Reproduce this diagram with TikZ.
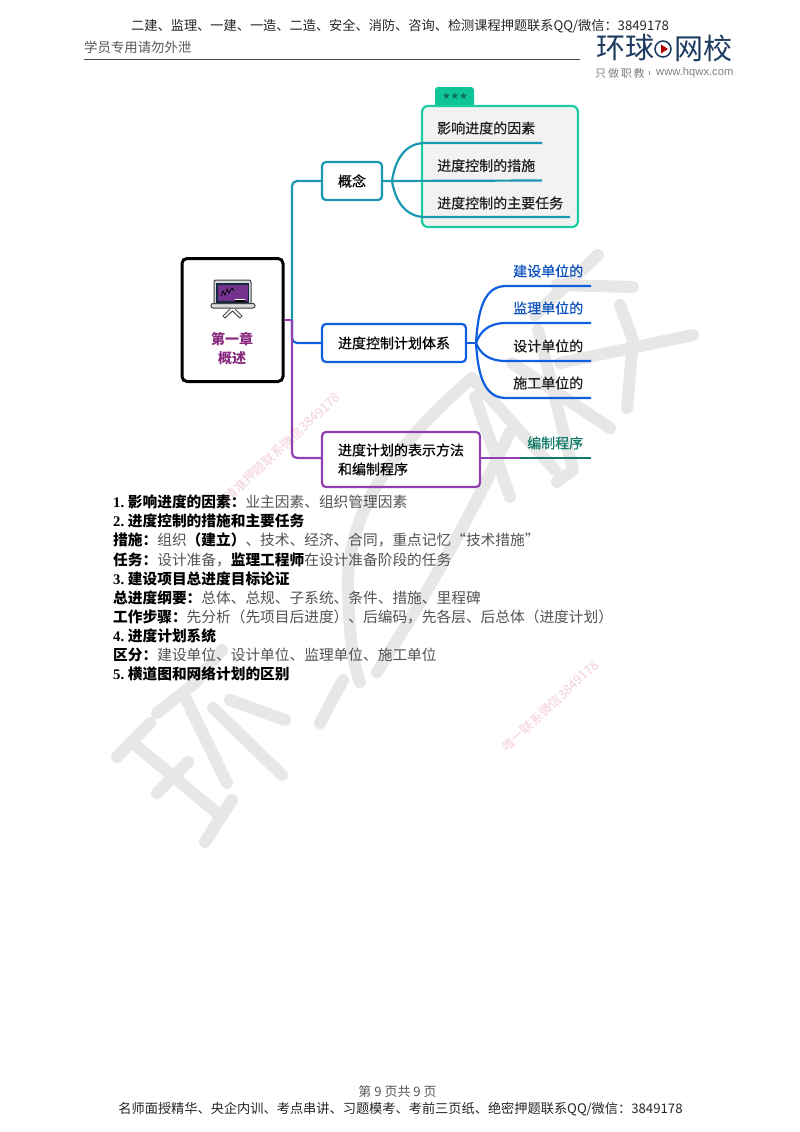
\documentclass[tikz,border=0pt]{standalone}
\usepackage{fontspec}
\setmainfont{Noto Sans CJK SC}
\newfontfamily\ser{Liberation Serif}
\newfontfamily\sym{DejaVu Sans}
\newfontfamily\lat{Liberation Sans}
\newcommand{\fsz}[1]{\fontsize{#1}{#1}\selectfont}
\newcommand{\bd}[1]{{\bfseries\color{black}#1}}
\newcommand{\nm}[1]{\makebox[14.7pt][l]{\color{black}\ser\bfseries #1}}
\newcommand{\fb}{\addfontfeature{FakeBold=0.5}}
\definecolor{teal1}{HTML}{1A98B0}
\definecolor{mint}{HTML}{1CCCA0}
\definecolor{mintdk}{HTML}{10C49A}
\definecolor{blue1}{HTML}{0F5FE0}
\definecolor{purp}{HTML}{9040B0}
\definecolor{grn}{HTML}{0F7A66}
\definecolor{navy}{HTML}{1D3A5F}
\definecolor{wm}{HTML}{E7E7E7}
\definecolor{pinkw}{HTML}{F3CFD7}
\definecolor{plum}{HTML}{8A2A80}
\tikzset{
  x=1pt,y=-1pt,
  wmstroke/.style={draw=wm,line width=12pt,line cap=round,line join=round},
  wmtext/.style={text=pinkw,font=\fsz{12.8},rotate=43,inner sep=0},
  bodyline/.style={anchor=west,inner sep=0,text=black!68,font=\fsz{14.7}},
  hdr/.style={inner sep=0,font=\fsz{13.2},text=black!85},
  mbox/.style={draw,line width=2.2pt,rounded corners=4pt,inner sep=0,align=center,font={\fsz{14}\fb}},
  lbl/.style={anchor=west,inner sep=0,font={\fsz{14}\fb},text=black!88},
  conn/.style={line width=2.2pt,rounded corners=5pt},
  curve/.style={line width=2.2pt},
}
\begin{document}
\begin{tikzpicture}
\useasboundingbox (0,0) rectangle (800,1132);
\fill[white] (0,0) rectangle (800,1132);
% background watermark strokes
\draw[wmstroke] (117,757)--(150,723);
\draw[wmstroke] (133,743)--(217,813);
\draw[wmstroke] (157,793)--(188,762);
\draw[wmstroke] (205,842)--(232,800);
\draw[wmstroke] (157,713)--(195,683)--(222,650);
\draw[wmstroke] (183,693)--(227,783);
\draw[wmstroke] (213,708)--(282,775);
\draw[wmstroke] (230,700)--(285,720);
\draw[wmstroke] (320,723)--(343,680);
\draw[wmstroke] (472,378) .. controls (400,440) and (345,510) .. (348,590) .. controls (349,630) and (352,660) .. (360,682);
\draw[wmstroke] (377,672) .. controls (410,620) and (460,540) .. (510,432);
\draw[wmstroke] (598,255)--(535,315);
\draw[wmstroke] (557,285)--(633,287);
\draw[wmstroke] (620,305)--(633,340)--(627,408);
\draw[wmstroke] (693,335)--(560,363);
\draw[wmstroke] (512,363)--(610,428);
\draw[wmstroke] (538,330)--(573,470)--(557,482);
\draw[wmstroke] (475,397)--(510,497);
\draw[wmstroke] (472,378)--(555,470);
\node[wmtext] (wa) at (282,447) {精准押题联系微信3849178};
\node[wmtext] (wb) at (550,706) {唯一联系微信3849178};
% header
\node[hdr,anchor=west] (h1) at (131,26) {二建、监理、一建、一造、二造、安全、消防、咨询、检测课程押题联系QQ/微信：3849178};
\node[anchor=west,inner sep=0,font=\fsz{13.4},text=black!65] (h2) at (84,47) {学员专用请勿外泄};
\coordinate (ruleA) at (84,60);
\coordinate (ruleB) at (580,60);
\draw[black!70,line width=1pt] (ruleA)--(ruleB);
% logo
\node[anchor=west,inner sep=0,font=\fsz{29},text=navy] (l1) at (596,48) {环球};
\node[anchor=west,inner sep=0,font=\fsz{29},text=navy] (l2) at (674,48) {网校};
\draw[navy,line width=1.5pt] (663,49) circle (8);
\fill[red!70!black] (661,44.5)--(668,49)--(661,53.5)--cycle;
\node[anchor=west,inner sep=0,font=\fsz{11},text=black!50] (l3) at (595,73) {只\,做\,职\,教};
\node[anchor=west,inner sep=0,font=\fsz{11.2},text=black!50] (l4) at (656,73) {\lat www.hqwx.com};
\fill[black!45] (649,71.5) rectangle (650,74.5);
% star tag and group box
\fill[mintdk,rounded corners=3pt] (435,87) rectangle (474,110);
\node[inner sep=0,font=\fsz{9.5},text=grn!85!black] (stars) at (455,96.5) {\sym ★★★};
\node[draw=mint,fill=black!5,line width=2.2pt,rounded corners=6pt,minimum width=156pt,minimum height=121pt,inner sep=0] (group) at (500,166.5) {};
% root
\node[draw=black,line width=3pt,rounded corners=5pt,fill=white,minimum width=101pt,minimum height=123pt,inner sep=0] (root) at (232.5,320) {};
\node[inner sep=0,align=center,text=plum,font={\fsz{14}\bfseries\baselineskip=19pt}] (roott) at (232,348.5) {第一章\\概述};
% icon
\draw[black!75,fill=black!15,line width=1pt,rounded corners=2pt] (214,280) rectangle (251,305);
\fill[navy!70!black] (216,283) rectangle (249,303);
\fill[purp!80!black] (217.5,284.5) rectangle (247.5,301);
\draw[black,line width=.7pt] (221,296)--(223,291)--(225,295)--(227,289)--(229,293)--(232,288)--(234,291);
\fill[black] (235,300) rectangle (245,302);
\fill[white] (235,298.5) rectangle (245,300);
\draw[black!75,fill=black!15,line width=1pt,rounded corners=2pt] (211,303.5) rectangle (255,308);
\draw[black!70,line width=1pt] (230,309)--(223,316)--(225,318)--(232.5,311)--(240,318)--(242,316)--(235,309);
% nodes
\node[mbox,draw=teal1,minimum width=60pt,minimum height=38pt] (concept) at (352,181) {概念};
\node[mbox,draw=blue1,minimum width=144pt,minimum height=38pt] (plan) at (394,343) {进度控制计划体系};
\node[mbox,draw=purp,minimum width=158pt,minimum height=55pt,text width=126pt,align=left,font={\fsz{14}\fb\baselineskip=19pt}] (method) at (401,459.5) {进度计划的表示方法\\和编制程序};
% trunk
\coordinate (tr) at (292,320);
\coordinate (m1) at (520,458);
\coordinate (m2) at (591,458);
\draw[conn,teal1] (tr) -- (292,181) -- (concept.west);
\draw[conn,blue1] (tr) -- (292,343) -- (plan.west);
\draw[curve,purp] (root.east) -- (tr);
\draw[conn,purp] (tr) -- (292,458) -- (method.west |- m1);
% concept branches
\coordinate (cb) at (392,181);
\coordinate (c1) at (542,143);
\coordinate (c2) at (542,180.5);
\coordinate (c3) at (570,217);
\draw[curve,teal1] (concept.east) -- (c2);
\draw[curve,teal1] (cb) .. controls (395,160) and (405,143) .. (425,143) -- (c1);
\draw[curve,teal1] (cb) .. controls (395,200) and (405,217) .. (425,217) -- (c3);
\node[lbl] (t1) at (437,128) {影响进度的因素};
\node[lbl] (t2) at (437,165.5) {进度控制的措施};
\node[lbl] (t3) at (437,203) {进度控制的主要任务};
% plan branches
\coordinate (pb) at (476,343);
\coordinate (p1) at (591,286);
\coordinate (p2) at (591,323);
\coordinate (p3) at (591,361);
\coordinate (p4) at (591,398);
\draw[curve,blue1] (plan.east) -- (pb);
\draw[curve,blue1] (pb) .. controls (478,310) and (484,286) .. (506,286) -- (p1);
\draw[curve,blue1] (pb) .. controls (480,332) and (488,323) .. (506,323) -- (p2);
\draw[curve,blue1] (pb) .. controls (480,353) and (488,361) .. (506,361) -- (p3);
\draw[curve,blue1] (pb) .. controls (478,375) and (484,398) .. (506,398) -- (p4);
\node[lbl,text=blue1!85!black] (u1) at (513,271) {建设单位的};
\node[lbl,text=blue1!85!black] (u2) at (513,308) {监理单位的};
\node[lbl] (u3) at (513,346) {设计单位的};
\node[lbl] (u4) at (513,383) {施工单位的};
% method branch
\draw[curve,purp] (method.east |- m1) -- (m1);
\draw[curve,grn] (m1) -- (m2);
\node[lbl,text=grn] (m) at (527,443) {编制程序};
% body text
\node[bodyline] (b1) at (113,502) {\nm{1.}\bd{影响进度的因素：}业主因素、组织管理因素};
\node[bodyline] (b2) at (113,521) {\nm{2.}\bd{进度控制的措施和主要任务}};
\node[bodyline] (b3) at (113,540) {\bd{措施：}组织\bd{（建立）}、技术、经济、合同，重点记忆“技术措施”};
\node[bodyline] (b4) at (113,559.5) {\bd{任务：}设计准备，\bd{监理工程师}在设计准备阶段的任务};
\node[bodyline] (b5) at (113,578.5) {\nm{3.}\bd{建设项目总进度目标论证}};
\node[bodyline] (b6) at (113,597.5) {\bd{总进度纲要：}总体、总规、子系统、条件、措施、里程碑};
\node[bodyline] (b7) at (113,616.5) {\bd{工作步骤：}先分析（先项目后进度）、后编码，先各层、后总体（进度计划）};
\node[bodyline] (b8) at (113,636) {\nm{4.}\bd{进度计划系统}};
\node[bodyline] (b9) at (113,655) {\bd{区分：}建设单位、设计单位、监理单位、施工单位};
\node[bodyline] (b10) at (113,674) {\nm{5.}\bd{横道图和网络计划的区别}};
% footer
\node[inner sep=0,font=\fsz{13},text=black!65] (f1) at (397.5,1092) {第 9 页共 9 页};
\node[hdr] (f2) at (400.5,1109) {名师面授精华、央企内训、考点串讲、习题模考、考前三页纸、绝密押题联系QQ/微信：3849178};
\end{tikzpicture}
\end{document}
